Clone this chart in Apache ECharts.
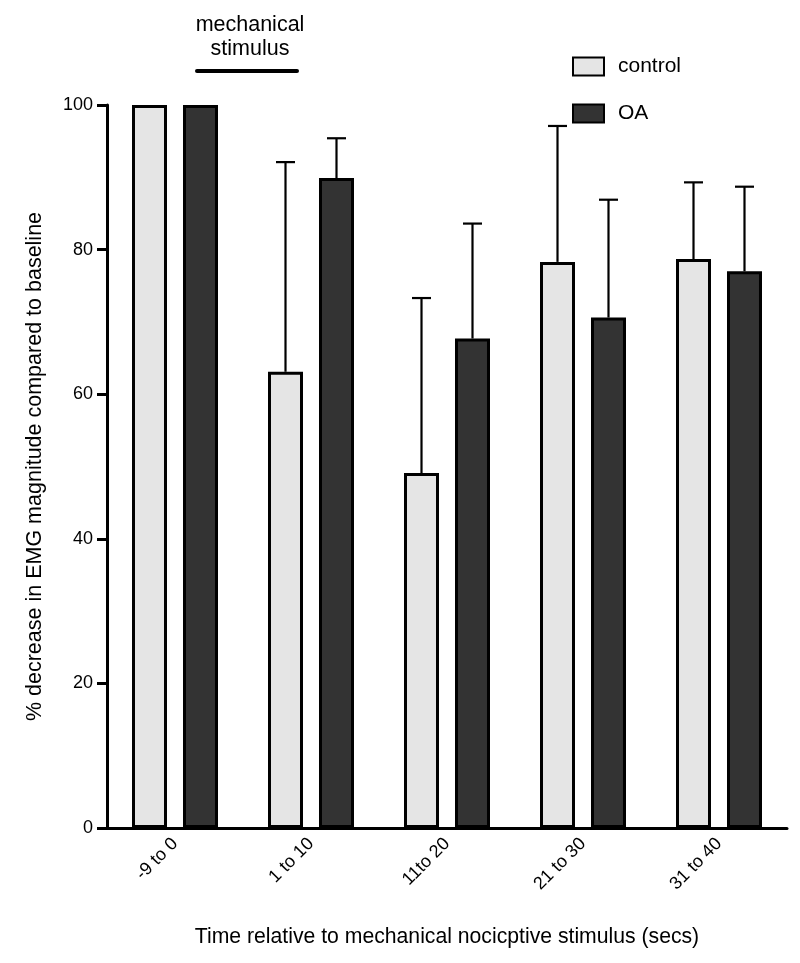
<!DOCTYPE html>
<html>
<head>
<meta charset="utf-8">
<script src="https://cdn.jsdelivr.net/npm/echarts@6/dist/echarts.min.js"></script>
<style>html,body{margin:0;padding:0;background:#fff}#c{width:800px;height:963px}</style>
</head>
<body>
<div id="c"></div>
<script>
const categories = ['-9 to 0', '1 to 10', '11to 20', '21 to 30', '31 to 40'];
const controlMean = [100, 63.1, 49.1, 78.3, 78.7];
const controlErrTop = [null, 92.1, 73.3, 97.1, 89.3];
const oaMean = [100, 89.9, 67.7, 70.6, 77.0];
const oaErrTop = [null, 95.4, 83.6, 86.9, 88.7];
const yTicks = [0, 20, 40, 60, 80, 100];

const FONT = '"Liberation Sans", Arial, Helvetica, sans-serif';
const BAR_W = 35;
const BAR_GAP = 0.457;
const OFFSET = BAR_W * (1 + BAR_GAP) / 2;

function errData(means, tops) {
  return means.map((m, i) => [i, m, tops[i]]);
}
function errRender(sign) {
  return function (params, api) {
    const top = api.value(2);
    if (top === null || top === undefined || isNaN(top)) return;
    const x = api.coord([api.value(0), 0])[0] + sign * OFFSET;
    const yb = api.coord([api.value(0), api.value(1)])[1];
    const yt = api.coord([api.value(0), top])[1];
    const st = { stroke: '#000', lineWidth: 2.2 };
    return {
      type: 'group',
      children: [
        { type: 'line', shape: { x1: x, y1: yb, x2: x, y2: yt }, style: st },
        { type: 'line', shape: { x1: x - 9.5, y1: yt, x2: x + 9.5, y2: yt }, style: st }
      ]
    };
  };
}

const chart = echarts.init(document.getElementById('c'), null, { renderer: 'canvas' });
chart.setOption({
  animation: false,
  backgroundColor: '#fff',
  textStyle: { fontFamily: FONT, color: '#000' },
  grid: { left: 107, right: 13, top: 105, bottom: 135, containLabel: false },
  legend: {
    orient: 'vertical',
    left: 567, top: 51,
    itemWidth: 31, itemHeight: 18, itemGap: 26,
    icon: 'rect',
    textStyle: { fontFamily: FONT, fontSize: 21, color: '#000', lineHeight: 18, padding: [0, 0, 0, 9] },
    data: ['control', 'OA'],
    selectedMode: false
  },
  xAxis: {
    type: 'category',
    data: categories,
    boundaryGap: true,
    axisLine: { lineStyle: { color: '#000', width: 3 } },
    axisTick: { alignWithLabel: true, length: 7, lineStyle: { color: '#000', width: 3 } },
    axisLabel: { rotate: 45, fontSize: 18, color: '#000', margin: 13, fontFamily: FONT },
    name: 'Time relative to mechanical nocicptive stimulus (secs)',
    nameLocation: 'middle',
    nameGap: 99,
    nameTextStyle: { fontSize: 21.2, color: '#000', fontFamily: FONT }
  },
  yAxis: {
    type: 'value',
    min: 0, max: 100, interval: 20,
    splitLine: { show: false },
    axisLine: { show: true, lineStyle: { color: '#000', width: 3 } },
    axisTick: { show: true, length: 10, lineStyle: { color: '#000', width: 3 } },
    axisLabel: { fontSize: 18, color: '#000', margin: 14, fontFamily: FONT,
      formatter: v => yTicks.indexOf(v) >= 0 ? String(v) : '' },
    name: '% decrease in EMG magnitude compared to baseline',
    nameLocation: 'middle',
    nameGap: 61,
    nameTextStyle: { fontSize: 21.5, color: '#000', fontFamily: FONT }
  },
  series: [
    {
      name: 'control', type: 'bar', data: controlMean,
      barWidth: BAR_W, barGap: (BAR_GAP * 100) + '%',
      itemStyle: { color: '#e5e5e5', borderColor: '#000', borderWidth: 3 },
      z: 2
    },
    {
      name: 'OA', type: 'bar', data: oaMean,
      barWidth: BAR_W, barGap: (BAR_GAP * 100) + '%',
      itemStyle: { color: '#333333', borderColor: '#000', borderWidth: 3 },
      z: 2
    },
    {
      type: 'custom', name: 'controlErr', data: errData(controlMean, controlErrTop),
      renderItem: errRender(-1), encode: { x: 0, y: [1, 2] }, z: 1, silent: true
    },
    {
      type: 'custom', name: 'oaErr', data: errData(oaMean, oaErrTop),
      renderItem: errRender(1), encode: { x: 0, y: [1, 2] }, z: 1, silent: true
    }
  ],
  graphic: [
    { type: 'text', x: 250, y: 13,
      style: { text: 'mechanical\nstimulus', fontSize: 21.5, fontFamily: FONT, fill: '#000',
        align: 'center', lineHeight: 24 } },
    { type: 'line', shape: { x1: 197, y1: 71, x2: 297, y2: 71 },
      style: { stroke: '#000', lineWidth: 4, lineCap: 'round' } }
  ]
});
</script>
</body>
</html>
